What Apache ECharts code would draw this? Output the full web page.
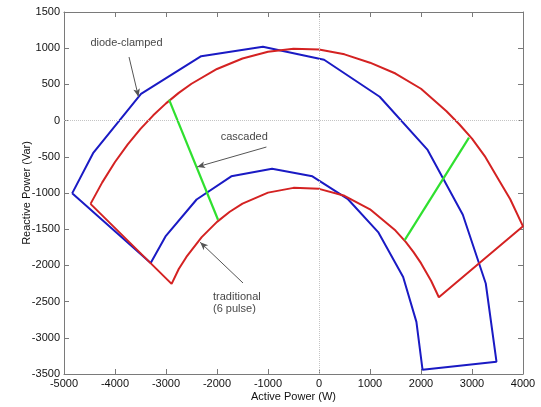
<!DOCTYPE html>
<html>
<head>
<meta charset="utf-8">
<script src="https://cdn.jsdelivr.net/npm/echarts@6/dist/echarts.min.js"></script>
<style>
  html, body { margin: 0; padding: 0; background: #fff; }
  #main { width: 541px; height: 407px; }
</style>
</head>
<body>
<div id="main"></div>
<script>
// operating regions, [active W, reactive Var]
var diodeClamped = [
    [-4840, -1005], [-4430, -450], [-3490, 370], [-2310, 890], [-1100, 1020],
    [100, 840], [1190, 330], [2130, -405], [2820, -1300], [3270, -2250],
    [3480, -3330], [2030, -3440], [1910, -2780], [1650, -2160], [1160, -1540],
    [560, -1080], [-130, -770], [-920, -665], [-1720, -770], [-2400, -1090],
    [-3010, -1600], [-3300, -1967], [-4840, -1005]
];
var traditional = [
    [-4480, -1150], [-2890, -2255], [-2750, -2049], [-2600, -1883], [-2300, -1610],
    [-2000, -1399], [-1750, -1259], [-1500, -1147], [-1000, -995], [-500, -929],
    [0, -943], [500, -1039], [1000, -1225], [1500, -1519], [1700, -1676],
    [1850, -1813], [2000, -1969], [2200, -2215], [2350, -2440],
    [4000, -1460], [3750, -1086], [3500, -790], [3250, -490], [3000, -250],
    [2750, -50], [2500, 130], [2000, 440], [1500, 650], [1000, 800],
    [500, 915], [0, 982], [-500, 991], [-1000, 950], [-1500, 858],
    [-2000, 713], [-2500, 509], [-2750, 383], [-3000, 238], [-3250, 73],
    [-3500, -114], [-3750, -328], [-4000, -572], [-4250, -853], [-4480, -1150]
];
var cascadedLeft = [[-2940, 290], [-1980, -1370]];
var cascadedRight = [[1680, -1650], [2941, -235]];

// annotation texts and their arrows (data coordinates)
var notes = [
    { name: 'diode-clamped', value: [-4482, 1077] },
    { name: 'cascaded', value: [-1927, -227] },
    { name: 'traditional\n(6 pulse)', value: [-2078, -2519] }
];
var arrows = [
    [[-3725, 878], [-3540, 330]],
    [[-1031, -365], [-2390, -640]],
    [[-1490, -2243], [-2330, -1680]]
];

var xMin = -5000, xMax = 4000, xStep = 1000;
var yMin = -3500, yMax = 1500, yStep = 500;

var chart = echarts.init(document.getElementById('main'));

var font = 'Liberation Sans, Arial, sans-serif';
var frame = { show: true, onZero: false, lineStyle: { color: '#7a7a7a', width: 1 } };
var ticks = { show: true, inside: true, length: 5, lineStyle: { color: '#7a7a7a' } };
var plain = function (v) { return String(v); };

function line(name, data, color, width) {
    return {
        name: name,
        type: 'line',
        data: data,
        symbol: 'none',
        z: 3,
        lineStyle: { color: color, width: width }
    };
}

var option = {
    animation: false,
    grid: { left: 64, right: 18, top: 12, bottom: 33 },
    xAxis: [
        {
            type: 'value', min: xMin, max: xMax, interval: xStep,
            name: 'Active Power (W)', nameLocation: 'middle', nameGap: 17,
            nameMoveOverlap: false,
            nameTextStyle: { color: '#111', fontSize: 11, fontFamily: font },
            axisLine: frame, axisTick: ticks,
            axisLabel: { color: '#111', fontSize: 11, fontFamily: font, margin: 4, formatter: plain },
            splitLine: { show: false }
        },
        {
            type: 'value', position: 'top', min: xMin, max: xMax, interval: xStep,
            axisLine: frame, axisTick: ticks,
            axisLabel: { show: false }, splitLine: { show: false }
        }
    ],
    yAxis: [
        {
            type: 'value', min: yMin, max: yMax, interval: yStep,
            name: 'Reactive Power (Var)', nameLocation: 'middle', nameGap: 32,
            nameMoveOverlap: false,
            nameTextStyle: { color: '#111', fontSize: 11, fontFamily: font },
            axisLine: frame, axisTick: ticks,
            axisLabel: { color: '#111', fontSize: 11, fontFamily: font, margin: 4, formatter: plain },
            splitLine: { show: false }
        },
        {
            type: 'value', position: 'right', min: yMin, max: yMax, interval: yStep,
            axisLine: frame, axisTick: ticks,
            axisLabel: { show: false }, splitLine: { show: false }
        }
    ],
    series: [
        {
            name: 'notes',
            type: 'scatter',
            z: 1,
            symbolSize: 0,
            data: notes,
            label: {
                show: true, position: 'right', distance: 0,
                formatter: '{b}', color: '#111', fontSize: 11, fontFamily: font,
                lineHeight: 12, align: 'left', verticalAlign: 'middle'
            },
            markLine: {
                silent: true,
                symbol: 'none',
                label: { show: false },
                lineStyle: { color: '#c4c4c4', type: 'dotted', width: 1 },
                data: [{ xAxis: 0 }, { yAxis: 0 }]
            }
        },
        line('diode-clamped', diodeClamped, '#1a1ac4', 2),
        line('traditional', traditional, '#d42222', 2),
        line('cascaded', cascadedLeft, '#2fe02f', 2.2),
        line('cascaded', cascadedRight, '#2fe02f', 2.2),
        {
            name: 'arrows',
            type: 'line',
            data: [],
            z: 4,
            markLine: {
                silent: true,
                symbol: ['none', 'arrow'],
                symbolSize: [5, 8],
                label: { show: false },
                lineStyle: { color: '#555', type: 'solid', width: 1 },
                data: arrows.map(function (a) {
                    return [{ coord: a[0] }, { coord: a[1] }];
                })
            }
        }
    ]
};

chart.setOption(option);
</script>
</body>
</html>
